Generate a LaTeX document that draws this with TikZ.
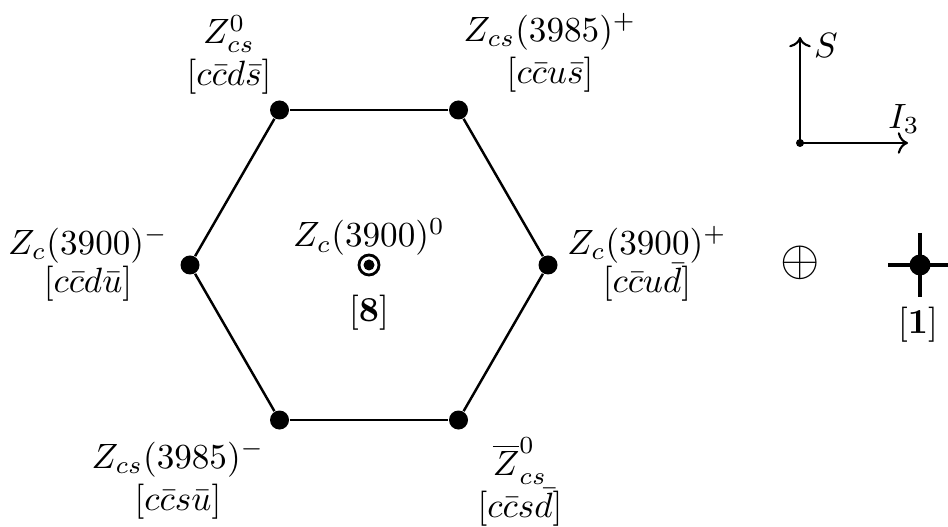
\documentclass[tikz,border=0pt]{standalone}
\usepackage{amsmath}
\usepackage{tikz}
\usetikzlibrary{positioning,arrows.meta,calc}

\begin{document}
\begin{tikzpicture}[font=\normalsize,
  vtx/.style={circle, fill, inner sep=0pt, minimum size=1.9mm},
  lbl/.style={align=center, inner sep=1pt},
  edge/.style={line width=0.7pt},
  axis/.style={->, semithick}]
\useasboundingbox (0,0) rectangle (9.48,5.26);
% octet hexagon
\coordinate (o) at (3.69,2.61);
\foreach \i in {0,...,5}
  \node[vtx] (v\i) at ($(o)+(60*\i:1.79)$) {};
\foreach \i/\j in {0/1,1/2,2/3,3/4,4/5,5/0}
  \draw[edge] (v\i) -- (v\j);
\node[lbl] (l0) at (6.47,2.62) {$Z_c(3900)^+$\\[-1pt] $[c\bar c u\bar d]$};
\node[lbl] (l1) at (5.50,4.73) {$Z_{cs}(3985)^+$\\ $[c\bar c u\bar s]$};
\node[lbl] (l2) at (2.29,4.71) {$Z^0_{cs}$\\ $[c\bar c d\bar s]$};
\node[lbl] (l3) at (0.88,2.62) {$Z_c(3900)^-$\\[-1pt] $[c\bar c d\bar u]$};
\node[lbl] (l4) at (1.78,0.46) {$Z_{cs}(3985)^-$\\ $[c\bar c s\bar u]$};
\node[lbl] (l5) at (5.20,0.44) {$\overline{Z}^0_{cs}$\\ $[c\bar c s\bar d]$};
% center state
\node[circle, draw, thick, inner sep=0pt, minimum size=2mm] (c) at (o) {};
\fill (c.center) circle (0.55mm);
\node[lbl] (lc) at (3.69,2.89) {$Z_c(3900)^0$};
\node[lbl] (oct) at (3.69,2.13) {$[\mathbf{8}]$};
% axes
\node[circle, fill, inner sep=0pt, minimum size=0.8mm] (ax) at (8.00,3.83) {};
\coordinate (axS) at (8.00,4.89);
\coordinate (axI) at (9.08,3.83);
\draw[axis] (ax.center) -- (axS);
\draw[axis] (ax.center) -- (axI);
\node[lbl] (S) at (8.26,4.80) {$S$};
\node[lbl] (I) at (9.04,4.07) {$I_3$};
% singlet
\node[lbl] (plus) at (8.00,2.63) {\Large$\oplus$};
\node[vtx, minimum size=2.1mm] (s) at (9.20,2.61) {};
\coordinate (sw) at (8.88,2.61);
\coordinate (se) at (9.52,2.61);
\coordinate (sn) at (9.20,2.93);
\coordinate (ss) at (9.20,2.29);
\draw[line width=1.1pt] (sw) -- (se);
\draw[line width=1.1pt] (sn) -- (ss);
\node[lbl] (sing) at (9.18,2.01) {$[\mathbf{1}]$};
\end{tikzpicture}
\end{document}
